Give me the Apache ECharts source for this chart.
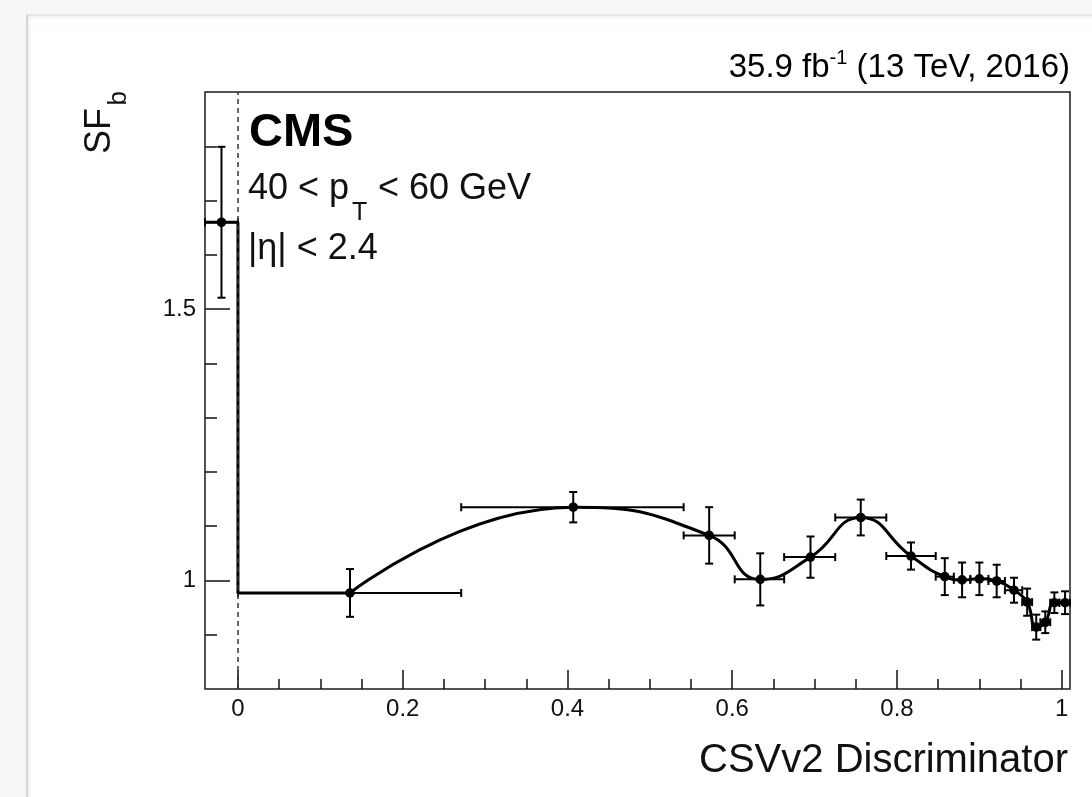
<!DOCTYPE html>
<html>
<head>
<meta charset="utf-8">
<script src="https://cdn.jsdelivr.net/npm/echarts@6/dist/echarts.min.js"></script>
<style>
  html, body { margin: 0; padding: 0; width: 1092px; height: 797px; overflow: hidden; background: #f6f7f7; }
  #card { position: absolute; left: 26px; top: 14px; right: 0; bottom: 0; background: #fff;
          border-left: 2px solid #d3d6d6; border-top: 2px solid #e3e6e6;
          box-shadow: inset 4px 4px 3px -2px #edf2f0; }
  #chart { position: absolute; left: 0; top: 0; width: 1092px; height: 797px; }
</style>
</head>
<body>
<div id="card"></div>
<div id="chart"></div>
<script>
// b-tag scale factor per CSVv2 discriminator bin (40 < pT < 60 GeV, |eta| < 2.4)
const binCenter = [-0.02, 0.136, 0.407, 0.572, 0.634, 0.695, 0.756, 0.817, 0.858, 0.879, 0.900, 0.921, 0.942, 0.958, 0.969, 0.980, 0.991, 1.004];
const binLow    = [-0.04, 0.000, 0.271, 0.541, 0.603, 0.663, 0.725, 0.787, 0.847, 0.869, 0.889, 0.911, 0.931, 0.952, 0.964, 0.974, 0.986, 0.997];
const binHigh   = [ 0.00, 0.271, 0.541, 0.603, 0.663, 0.725, 0.787, 0.847, 0.869, 0.889, 0.911, 0.931, 0.952, 0.964, 0.974, 0.986, 0.997, 1.010];
const sfValue   = [1.660, 0.977, 1.135, 1.083, 1.002, 1.043, 1.116, 1.045, 1.007, 1.001, 1.003, 0.999, 0.982, 0.960, 0.914, 0.923, 0.959, 0.959];
const sfError   = [0.139, 0.044, 0.028, 0.052, 0.048, 0.038, 0.033, 0.025, 0.034, 0.032, 0.030, 0.030, 0.023, 0.025, 0.023, 0.020, 0.019, 0.021];

// Axis ranges and ticks
const xRange = [-0.04, 1.01];
const yRange = [0.8, 1.9];
const xMajorTicks = [0, 0.2, 0.4, 0.6, 0.8, 1];
const xTickLabels = ['0', '0.2', '0.4', '0.6', '0.8', '1'];
const xMinorTicks = [0.05, 0.1, 0.15, 0.25, 0.3, 0.35, 0.45, 0.5, 0.55, 0.65, 0.7, 0.75, 0.85, 0.9, 0.95];
const yMajorTicks = [1, 1.5];
const yTickLabels = ['1', '1.5'];
const yMinorTicks = [0.9, 1.1, 1.2, 1.3, 1.4, 1.6, 1.7, 1.8];

const FONT = "'Liberation Sans', Arial, Helvetica, sans-serif";
const INK = '#000';

function labelFor(ticks, labels) {
  return function (v) {
    let best = 0;
    for (let i = 1; i < ticks.length; i++) {
      if (Math.abs(ticks[i] - v) < Math.abs(ticks[best] - v)) best = i;
    }
    return labels[best];
  };
}

// Step below the first measured bin: flat SF for x < 0, then the second bin's SF from 0 onwards
const stepLine = [
  [binLow[0], sfValue[0]],
  [binHigh[0], sfValue[0]],
  [binHigh[0], sfValue[1]],
  [binCenter[1], sfValue[1]]
];
// Smooth interpolation through the remaining bins
const smoothLine = binCenter.slice(1).map((x, i) => [x, sfValue[i + 1]]);
// Points with horizontal bin widths and vertical uncertainties
const points = binCenter.map((x, i) => [x, sfValue[i], binLow[i], binHigh[i], sfError[i]]);

function renderPoint(params, api) {
  const x = api.value(0), y = api.value(1);
  const lo = api.value(2), hi = api.value(3), err = api.value(4);
  const c = api.coord([x, y]);
  const l = api.coord([lo, y]), r = api.coord([hi, y]);
  const t = api.coord([x, y + err]), b = api.coord([x, y - err]);
  const cap = 4;
  const seg = (x1, y1, x2, y2) => ({
    type: 'line', shape: { x1, y1, x2, y2 },
    style: { stroke: INK, lineWidth: 2 }
  });
  return {
    type: 'group',
    children: [
      seg(l[0], c[1], r[0], c[1]),
      seg(l[0], c[1] - cap, l[0], c[1] + cap),
      seg(r[0], c[1] - cap, r[0], c[1] + cap),
      seg(c[0], t[1], c[0], b[1]),
      seg(c[0] - cap, t[1], c[0] + cap, t[1]),
      seg(c[0] - cap, b[1], c[0] + cap, b[1]),
      { type: 'circle', shape: { cx: c[0], cy: c[1], r: 4.8 }, style: { fill: INK } }
    ]
  };
}

const tickLine = { color: '#111', width: 1.5 };
const labelStyle = { fontFamily: FONT, fontSize: 24, color: '#111' };

const chart = echarts.init(document.getElementById('chart'), null, { renderer: 'canvas' });
chart.setOption({
  animation: false,
  backgroundColor: 'transparent',
  grid: {
    left: 205, top: 92, right: 22, bottom: 108,
    show: true, borderColor: '#1a1a1a', borderWidth: 1.5, backgroundColor: 'transparent'
  },
  xAxis: [
    {
      type: 'value', min: xRange[0], max: xRange[1], position: 'bottom',
      axisLine: { show: false, onZero: false }, splitLine: { show: false },
      axisTick: { show: true, inside: true, length: 19, customValues: xMajorTicks, lineStyle: tickLine },
      axisLabel: Object.assign({ show: true, margin: 8, customValues: xMajorTicks,
        formatter: labelFor(xMajorTicks, xTickLabels) }, labelStyle)
    },
    {
      type: 'value', min: xRange[0], max: xRange[1], position: 'bottom',
      axisLine: { show: false, onZero: false }, splitLine: { show: false }, axisLabel: { show: false },
      axisTick: { show: true, inside: true, length: 10, customValues: xMinorTicks, lineStyle: tickLine }
    }
  ],
  yAxis: [
    {
      type: 'value', min: yRange[0], max: yRange[1], position: 'left',
      axisLine: { show: false, onZero: false }, splitLine: { show: false },
      axisTick: { show: true, inside: true, length: 25, customValues: yMajorTicks, lineStyle: tickLine },
      axisLabel: Object.assign({ show: true, margin: 9, customValues: yMajorTicks,
        formatter: labelFor(yMajorTicks, yTickLabels) }, labelStyle)
    },
    {
      type: 'value', min: yRange[0], max: yRange[1], position: 'left',
      axisLine: { show: false, onZero: false }, splitLine: { show: false }, axisLabel: { show: false },
      axisTick: { show: true, inside: true, length: 12, customValues: yMinorTicks, lineStyle: tickLine }
    }
  ],
  series: [
    {
      type: 'line', data: stepLine, xAxisIndex: 0, yAxisIndex: 0,
      showSymbol: false, symbol: 'none', silent: true,
      lineStyle: { color: INK, width: 3 },
      markLine: {
        silent: true, symbol: ['none', 'none'], label: { show: false },
        lineStyle: { color: '#333', width: 1.5, type: [5, 4] },
        data: [{ xAxis: 0 }]
      },
      z: 2
    },
    {
      type: 'line', data: smoothLine, xAxisIndex: 0, yAxisIndex: 0,
      smooth: 0.5, showSymbol: false, symbol: 'none', silent: true,
      lineStyle: { color: INK, width: 3 }, z: 3
    },
    {
      type: 'custom', data: points, xAxisIndex: 0, yAxisIndex: 0,
      encode: { x: 0, y: 1 }, renderItem: renderPoint, silent: true, z: 4
    }
  ],
  graphic: [
    { type: 'text', x: 1070, y: 66,
      style: { text: '{m|35.9 fb}{s|-1}{m| (13 TeV, 2016)}', textAlign: 'right', textVerticalAlign: 'middle',
        rich: {
          m: { fontFamily: FONT, fontSize: 33, color: '#111', lineHeight: 36, verticalAlign: 'bottom' },
          s: { fontFamily: FONT, fontSize: 20, color: '#111', lineHeight: 36, verticalAlign: 'top', padding: [0, 0, 12, 0] }
        } } },
    { type: 'text', x: 249, y: 133,
      style: { text: 'CMS', font: "bold 47px " + FONT, fill: INK, textAlign: 'left', textVerticalAlign: 'middle' } },
    { type: 'text', x: 248, y: 189,
      style: { text: '40 < p', font: "36px " + FONT, fill: '#111', textAlign: 'left', textVerticalAlign: 'middle' } },
    { type: 'text', x: 352, y: 213,
      style: { text: 'T', font: "25px " + FONT, fill: '#111', textAlign: 'left', textVerticalAlign: 'middle' } },
    { type: 'text', x: 378, y: 189,
      style: { text: '< 60 GeV', font: "36px " + FONT, fill: '#111', textAlign: 'left', textVerticalAlign: 'middle' } },
    { type: 'text', x: 248, y: 249,
      style: { text: '|η| < 2.4', font: "36px " + FONT, fill: '#111', textAlign: 'left', textVerticalAlign: 'middle' } },
    { type: 'text', x: 1068, y: 761,
      style: { text: 'CSVv2 Discriminator', font: "40px " + FONT, fill: '#111', textAlign: 'right', textVerticalAlign: 'middle' } },
    { type: 'text', x: 100, y: 108, rotation: Math.PI / 2,
      style: { text: 'SF', font: "36px " + FONT, fill: '#111', textAlign: 'right', textVerticalAlign: 'middle' } },
    { type: 'text', x: 119, y: 91, rotation: Math.PI / 2,
      style: { text: 'b', font: "26px " + FONT, fill: '#111', textAlign: 'right', textVerticalAlign: 'middle' } }
  ]
});
</script>
</body>
</html>
